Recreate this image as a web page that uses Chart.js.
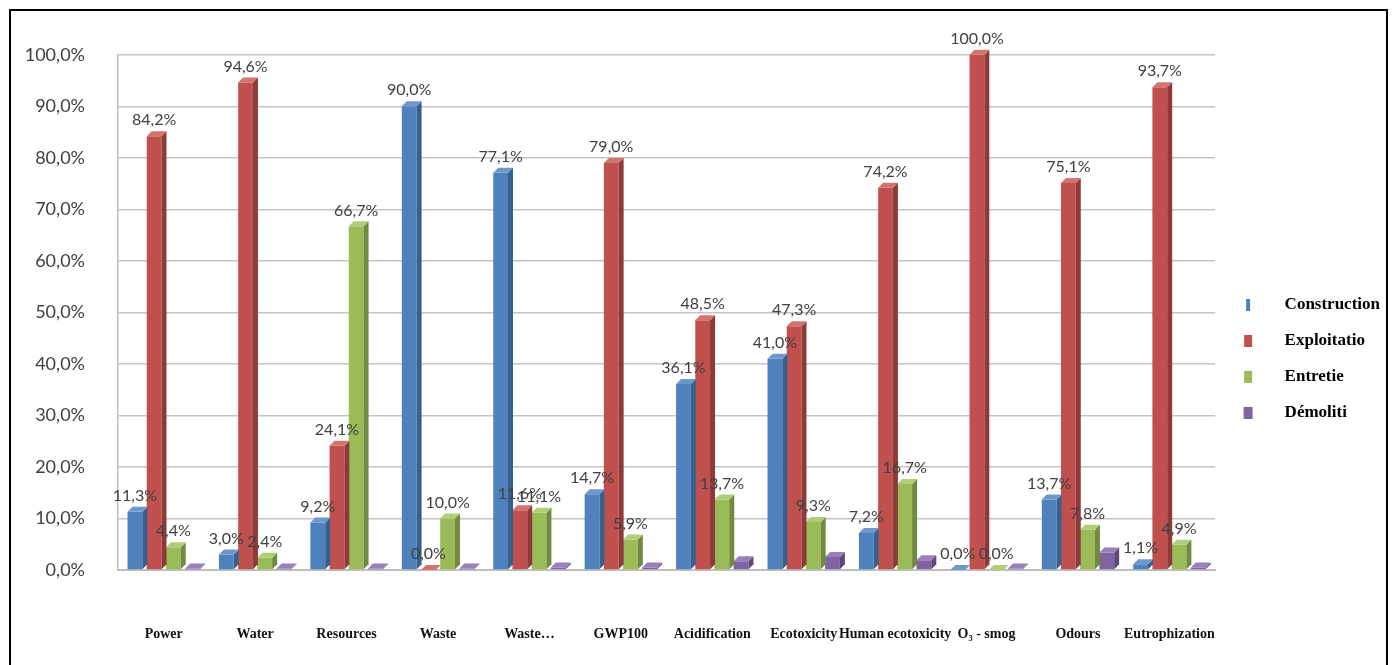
<!DOCTYPE html>
<html lang="fr">
<head>
    <meta charset="UTF-8">
    <title>Impacts par phase</title>
    <style>
        html, body { margin: 0; padding: 0; background: #fff; }
        .frame {
            position: absolute; left: 9px; top: 9px; width: 1379px; height: 660px;
            border: 2px solid #000; border-bottom: none; box-sizing: border-box;
        }
        .frame canvas { display: block; }
    </style>
</head>
<body>
    <div class="frame">
        <canvas id="myChart"></canvas>
    </div>

    <script src="https://cdn.jsdelivr.net/npm/chart.js@4.4.1/dist/chart.umd.min.js"></script>
    <script>
        // categories on the x axis
        var categories = ["Power", "Water", "Resources", "Waste", "Waste\u2026", "GWP100",
            "Acidification", "Ecotoxicity", "Human ecotoxicity", "O\u2083 - smog", "Odours", "Eutrophization"];

        // series values (%)
        var construction = [11.3, 3.0, 9.2, 90.0, 77.1, 14.7, 36.1, 41.0, 7.2, 0.0, 13.7, 1.1];
        var exploitation = [84.2, 94.6, 24.1, 0.0, 11.6, 79.0, 48.5, 47.3, 74.2, 100.0, 75.1, 93.7];
        var entretien    = [4.4, 2.4, 66.7, 10.0, 11.1, 5.9, 13.7, 9.3, 16.7, 0.0, 7.8, 4.9];
        var demolition   = [0.3, 0.3, 0.3, 0.3, 0.5, 0.5, 1.7, 2.5, 1.9, 0.3, 3.4, 0.5];

        var seriesNames = ["Construction", "Exploitatio", "Entretie", "Démoliti"];
        var yTicks = [0, 10, 20, 30, 40, 50, 60, 70, 80, 90, 100];

        var fronts = ["#4F81BD", "#C0504D", "#9BBB59", "#8064A2"];
        var sides  = ["#38608F", "#8E3A38", "#728A40", "#5D4878"];
        var tops   = ["#6E98CC", "#D27370", "#B0CD77", "#9A80BA"];

        function pct(v) { return v.toFixed(1).replace('.', ',') + '%'; }

        var DEPTH = 5;

        // legend marker: small rectangle with blank room after it
        function legendMarker(color, w) {
            var c = document.createElement('canvas');
            c.width = 42; c.height = 14;
            var g = c.getContext('2d');
            g.fillStyle = color;
            g.fillRect(14 - w / 2, 1, w, 12);
            return c;
        }

        // fake 3D: side and top faces of each bar
        var bar3d = {
            id: 'bar3d',
            afterDatasetDraw: function(chart, args) {
                var ctx = chart.ctx;
                var i = args.index;
                args.meta.data.forEach(function(bar) {
                    var x1 = bar.x - bar.width / 2, x2 = bar.x + bar.width / 2;
                    var top = bar.y, base = bar.base;
                    ctx.save();
                    ctx.fillStyle = sides[i];
                    ctx.beginPath();
                    ctx.moveTo(x2, top); ctx.lineTo(x2 + DEPTH, top - DEPTH);
                    ctx.lineTo(x2 + DEPTH, base - DEPTH); ctx.lineTo(x2, base);
                    ctx.closePath(); ctx.fill();
                    ctx.fillStyle = tops[i];
                    ctx.beginPath();
                    ctx.moveTo(x1, top); ctx.lineTo(x1 + DEPTH, top - DEPTH);
                    ctx.lineTo(x2 + DEPTH, top - DEPTH); ctx.lineTo(x2, top);
                    ctx.closePath(); ctx.fill();
                    ctx.restore();
                });
            }
        };

        // value labels above the first three series
        var valueLabels = {
            id: 'valueLabels',
            afterDatasetsDraw: function(chart) {
                var ctx = chart.ctx;
                ctx.save();
                ctx.font = '16px Lato';
                ctx.fillStyle = '#404040';
                ctx.textAlign = 'center';
                ctx.textBaseline = 'bottom';
                for (var d = 0; d < 3; d++) {
                    var meta = chart.getDatasetMeta(d);
                    meta.data.forEach(function(bar, j) {
                        var v = chart.data.datasets[d].data[j];
                        ctx.fillText(pct(v), bar.x, bar.y - DEPTH - 3);
                    });
                }
                ctx.restore();
            }
        };

        var seriesData = [construction, exploitation, entretien, demolition];
        var markerW = [4, 8, 8, 9];

        var ctx = document.getElementById("myChart").getContext('2d');
        var myChart = new Chart(ctx, {
            type: 'bar',
            data: {
                labels: categories,
                datasets: seriesData.map(function(arr, i) {
                    return {
                        label: seriesNames[i],
                        data: arr,
                        backgroundColor: fronts[i],
                        pointStyle: legendMarker(fronts[i], markerW[i]),
                        categoryPercentage: 0.84,
                        barPercentage: 0.77
                    };
                })
            },
            options: {
                responsive: true,
                maintainAspectRatio: false,
                animation: false,
                layout: { padding: { top: 38, left: 10, right: -4, bottom: 0 } },
                plugins: {
                    tooltip: { enabled: false },
                    legend: {
                        position: 'right',
                        labels: {
                            usePointStyle: true,
                            pointStyleWidth: 42,
                            boxHeight: 14,
                            padding: 19,
                            color: '#000',
                            font: { family: 'Liberation Serif', size: 17, weight: 'bold' }
                        }
                    }
                },
                scales: {
                    x: {
                        grid: { display: false },
                        border: { color: '#bfbfbf', width: 2 },
                        afterFit: function(scale) { scale.height = 99; },
                        ticks: {
                            autoSkip: false,
                            maxRotation: 0,
                            padding: 48,
                            color: '#111',
                            font: { family: 'Liberation Serif', size: 14, weight: 'bold' }
                        }
                    },
                    y: {
                        min: 0,
                        max: 100,
                        afterBuildTicks: function(axis) {
                            axis.ticks = yTicks.map(function(v) { return { value: v }; });
                        },
                        afterFit: function(scale) { scale.width = 97; },
                        grid: { color: '#c4c4c4', lineWidth: 1.5, drawTicks: false },
                        border: { color: '#bfbfbf', width: 1.5 },
                        ticks: {
                            padding: 33,
                            color: '#404040',
                            font: { family: 'Lato', size: 18 },
                            callback: function(v) { return pct(v); }
                        }
                    }
                }
            },
            plugins: [bar3d, valueLabels]
        });
    </script>
</body>
</html>
